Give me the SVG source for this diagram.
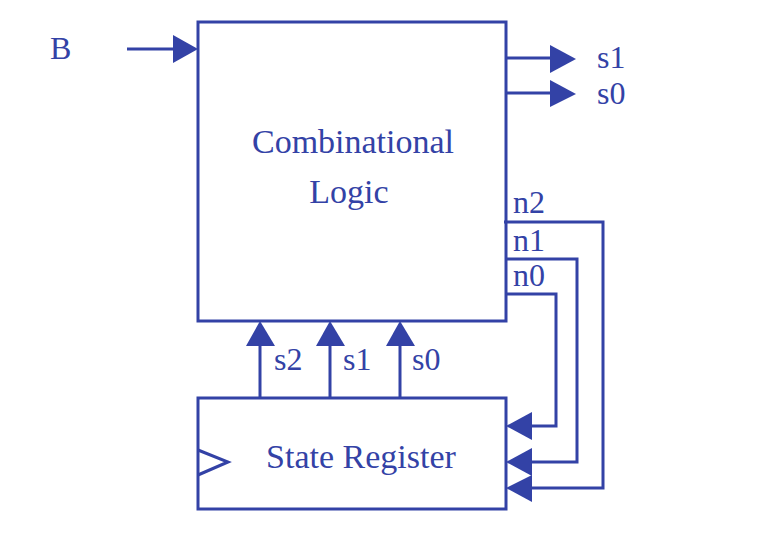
<svg xmlns="http://www.w3.org/2000/svg" width="768" height="546" viewBox="0 0 768 546">
<style>
.b{fill:none;stroke:#3342a6;stroke-width:3}
.l{fill:none;stroke:#3342a6;stroke-width:3}
.a{fill:#3342a6;stroke:none}
text{font-family:"Liberation Serif","Times New Roman",serif;fill:#3342a6;font-size:32px}
.big{font-size:34px}
</style>
<rect width="768" height="546" fill="#fff"/>
<g id="comb">
<rect class="b" x="198" y="22" width="308" height="299"/>
<text class="big" x="353" y="153" text-anchor="middle">Combinational</text>
<text class="big" x="349" y="203" text-anchor="middle">Logic</text>
</g>
<g id="reg">
<rect class="b" x="198" y="398" width="308" height="111"/>
<polyline class="b" points="198,450 228,462 198,475"/>
<text class="big" x="361" y="468" text-anchor="middle">State Register</text>
</g>
<g id="labels">
<text x="50" y="59">B</text>
<text x="597" y="68">s1</text>
<text x="597" y="104">s0</text>
<text x="513" y="213">n2</text>
<text x="513" y="251">n1</text>
<text x="513" y="286">n0</text>
<text x="274" y="370">s2</text>
<text x="343" y="370">s1</text>
<text x="412" y="370">s0</text>
</g>
<g id="connectors">
<line class="l" x1="127" y1="49" x2="176" y2="49"/>
<polygon class="a" points="173,35 198,49 173,63"/>
<line class="l" x1="506" y1="58" x2="552" y2="58"/>
<polygon class="a" points="550,45 576,59 550,73"/>
<line class="l" x1="506" y1="93" x2="552" y2="93"/>
<polygon class="a" points="550,80 576,94 550,107"/>
<polyline class="l" points="504,222 603,222 603,488 530,488"/>
<polygon class="a" points="532,475 506,488 532,502"/>
<polyline class="l" points="506,259 577,259 577,462 530,462"/>
<polygon class="a" points="532,448 506,462 532,476"/>
<polyline class="l" points="506,294 556,294 556,426 530,426"/>
<polygon class="a" points="532,412 506,426 532,440"/>
<line class="l" x1="260" y1="398" x2="260" y2="344"/>
<polygon class="a" points="246,346 260,321 275,346"/>
<line class="l" x1="330" y1="398" x2="330" y2="344"/>
<polygon class="a" points="316,346 330,321 345,346"/>
<line class="l" x1="400" y1="398" x2="400" y2="344"/>
<polygon class="a" points="386,346 400,321 415,346"/>
</g>
</svg>
